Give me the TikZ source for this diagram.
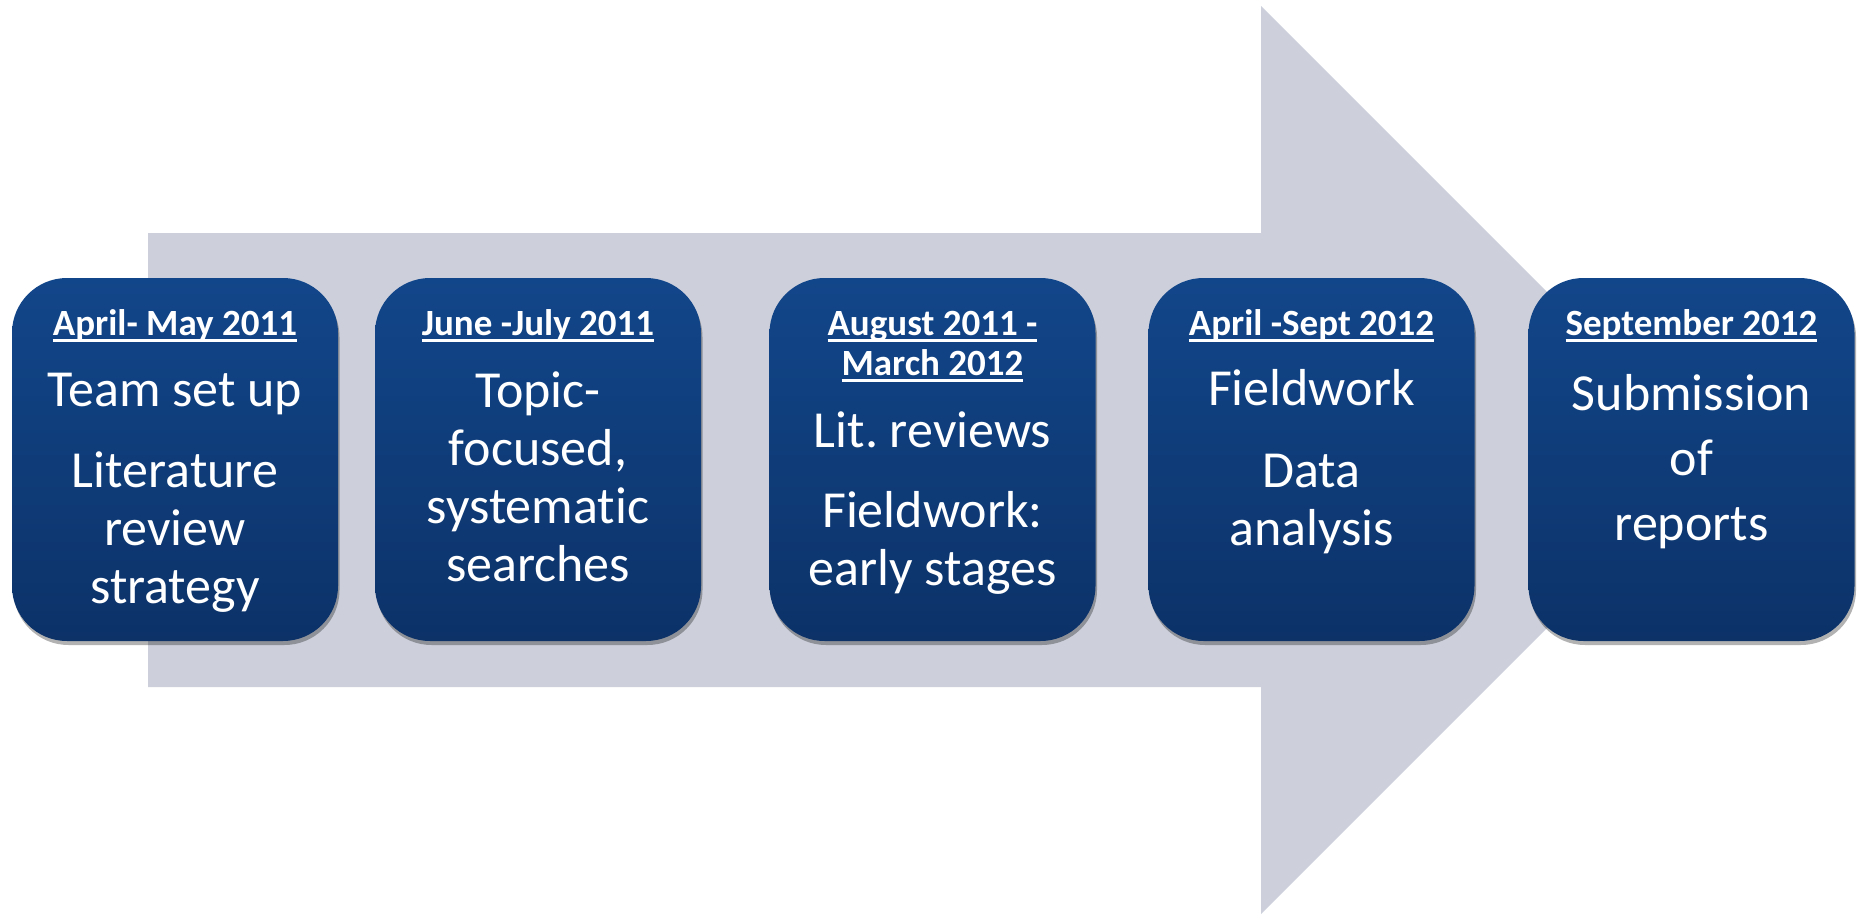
\documentclass[tikz,border=0pt]{standalone}
\usepackage{fontspec}
\setmainfont{Carlito}[Ligatures=NoCommon]
\usetikzlibrary{shadows}
\definecolor{arrowgray}{RGB}{205,208,219}
\definecolor{boxtop}{RGB}{18,70,138}
\definecolor{boxbottom}{RGB}{12,50,104}
\newcommand\uldate[1]{\leavevmode\hbox{\setbox0=\hbox{#1}\rlap{\rule[-6.5pt]{\wd0}{3pt}}\box0}}

\begin{document}
\begin{tikzpicture}[x=1pt,y=-1pt,
  stagebox/.style={rectangle,rounded corners=55pt,minimum width=326pt,minimum height=363pt,
    inner sep=0pt,top color=boxtop,bottom color=boxbottom,
    drop shadow={shadow xshift=1.5pt,shadow yshift=-4pt,opacity=0.3,fill=black}},
  datetxt/.style={anchor=base,text=white,text width=320pt,align=flush center,inner sep=0pt,
    font=\bfseries\fontsize{37}{40}\selectfont\frenchspacing},
  bodytxt/.style={anchor=base,text=white,text width=320pt,align=flush center,inner sep=0pt,
    font=\fontsize{52}{58}\selectfont\frenchspacing}]
\useasboundingbox (0,0) rectangle (1857,918);
%Arrow
\fill[arrowgray] (148,233) -- (1261,233) -- (1261,6) -- (1715,460) -- (1261,914) -- (1261,687) -- (148,687) -- cycle;
%Boxes
\node at (175,459.5) [stagebox] (Box1) {};
\node at (538,459.5) [stagebox] (Box2) {};
\node at (932.5,459.5) [stagebox] (Box3) {};
\node at (1311.5,459.5) [stagebox] (Box4) {};
\node at (1691.5,459.5) [stagebox] (Box5) {};
%Dates
\node at (175,335) [datetxt] (Date1) {\uldate{April- May 2011}};
\node at (538,335) [datetxt] (Date2) {\uldate{June -July 2011}};
\node at (932.5,335) [datetxt] (Date3) {\uldate{August 2011 -}\\\uldate{March 2012}};
\node at (1311.5,335) [datetxt] (Date4) {\uldate{April -Sept 2012}};
\node at (1691.5,335) [datetxt] (Date5) {\uldate{September 2012}};
%Stage Texts
\node at (175,406) [bodytxt] (Text1) {Team set up\\[23pt]Literature\\review\\strategy};
\node at (538,407) [bodytxt] (Text2) {Topic-\\focused,\\systematic\\searches};
\node at (932.5,447) [bodytxt] (Text3) {Lit. reviews\\[22pt]Fieldwork:\\early stages};
\node at (1311.5,405) [bodytxt] (Text4) {Fieldwork\\[24pt]Data\\analysis};
\node at (1691.5,410) [bodytxt] (Text5) {Submission\\[7pt]of\\[7pt]reports};
\end{tikzpicture}
\end{document}
